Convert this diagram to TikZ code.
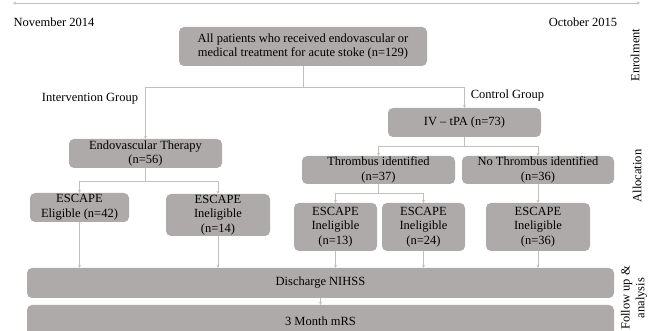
\documentclass[tikz,border=0pt]{standalone}
\usepackage{fontspec}
\setmainfont{Liberation Serif}
\usetikzlibrary{arrows.meta}
\definecolor{boxgray}{HTML}{AEAAAA}
\definecolor{linegray}{HTML}{BFBFBF}
\begin{document}
\begin{tikzpicture}[x=1pt,y=-1pt,
    every node/.style={font=\fontsize{12.5}{14.8}\selectfont},
    stagebox/.style={fill=boxgray, rounded corners=5pt, align=center, inner sep=0pt},
    link/.style={draw=linegray, line width=0.8pt},
    flow/.style={link, -{Stealth[length=3pt,width=3pt]}}]
\useasboundingbox (0,0) rectangle (657,331);
\coordinate (tlstart) at (13,3);
\coordinate (tlend) at (640,3);
\draw[link, {Stealth[length=3pt,width=3pt]}-{Stealth[length=3pt,width=3pt]}] (tlstart) -- (tlend);
\node (startdate) at (54,22) {November 2014};
\node (enddate) at (583,22) {October 2015};
\node[rotate=90] (enrol) at (635,55) {Enrolment};
\node[rotate=90] (alloc) at (637,176) {Allocation};
\node[rotate=90, align=center] (follow) at (634,298) {Follow up \&\\analysis};
\node[stagebox, minimum width=248, minimum height=39] (all) at (303,46.5)
    {All patients who received endovascular or\\medical treatment for acute stoke (n=129)};
\node (intgroup) at (90,99) {Intervention Group};
\node (ctrlgroup) at (507.5,95) {Control Group};
\node[stagebox, minimum width=153, minimum height=29] (ivtpa) at (464.5,122.5) {IV -- tPA (n=73)};
\node[stagebox, minimum width=153, minimum height=29] (endo) at (145.5,153.5) {Endovascular Therapy\\(n=56)};
\node[stagebox, minimum width=153, minimum height=28] (thromb) at (378.5,170) {Thrombus identified\\(n=37)};
\node[stagebox, minimum width=152, minimum height=28] (nothromb) at (538,170) {No Thrombus identified\\(n=36)};
\node[stagebox, minimum width=99, minimum height=29] (elig) at (79.5,207.5) {ESCAPE\\Eligible (n=42)};
\node[stagebox, minimum width=104, minimum height=42] (inelA) at (218,215) {ESCAPE\\Ineligible\\(n=14)};
\node[stagebox, minimum width=83, minimum height=48] (inelB) at (335.5,227) {ESCAPE\\Ineligible\\(n=13)};
\node[stagebox, minimum width=83, minimum height=48] (inelC) at (423.5,227) {ESCAPE\\Ineligible\\(n=24)};
\node[stagebox, minimum width=104, minimum height=48] (inelD) at (538,227) {ESCAPE\\Ineligible\\(n=36)};
\node[stagebox, minimum width=587, minimum height=30] (nihss) at (320.5,283) {Discharge NIHSS};
\node[stagebox, minimum width=587, minimum height=32] (mrs) at (320.5,321) {3 Month mRS};
\coordinate (split) at (303,87);
\draw[link] (all.south) -- (split);
\draw[flow] (split) -| (endo.north);
\draw[flow] (split) -| (ivtpa.north);
\draw[link] (endo.south) -- ++(0,13) coordinate (endosplit);
\draw[flow] (endosplit) -| (elig.north);
\draw[flow] (endosplit) -| (inelA.north);
\draw[link] (ivtpa.south) -- ++(0,9) coordinate (tpasplit);
\draw[flow] (tpasplit) -| (thromb.north);
\draw[flow] (tpasplit) -| (nothromb.north);
\draw[link] (thromb.south) -- ++(0,9) coordinate (thrsplit);
\draw[flow] (thrsplit) -| (inelB.north);
\draw[flow] (thrsplit) -| (inelC.north);
\draw[flow] (nothromb.south) -- (inelD.north);
\draw[flow] (elig.south) -- (elig.south |- nihss.north);
\draw[flow] (inelA.south) -- (inelA.south |- nihss.north);
\draw[flow] (inelB.south) -- (inelB.south |- nihss.north);
\draw[flow] (inelC.south) -- (inelC.south |- nihss.north);
\draw[flow] (inelD.south) -- (inelD.south |- nihss.north);
\draw[flow] (nihss.south) -- (mrs.north);
\end{tikzpicture}
\end{document}
